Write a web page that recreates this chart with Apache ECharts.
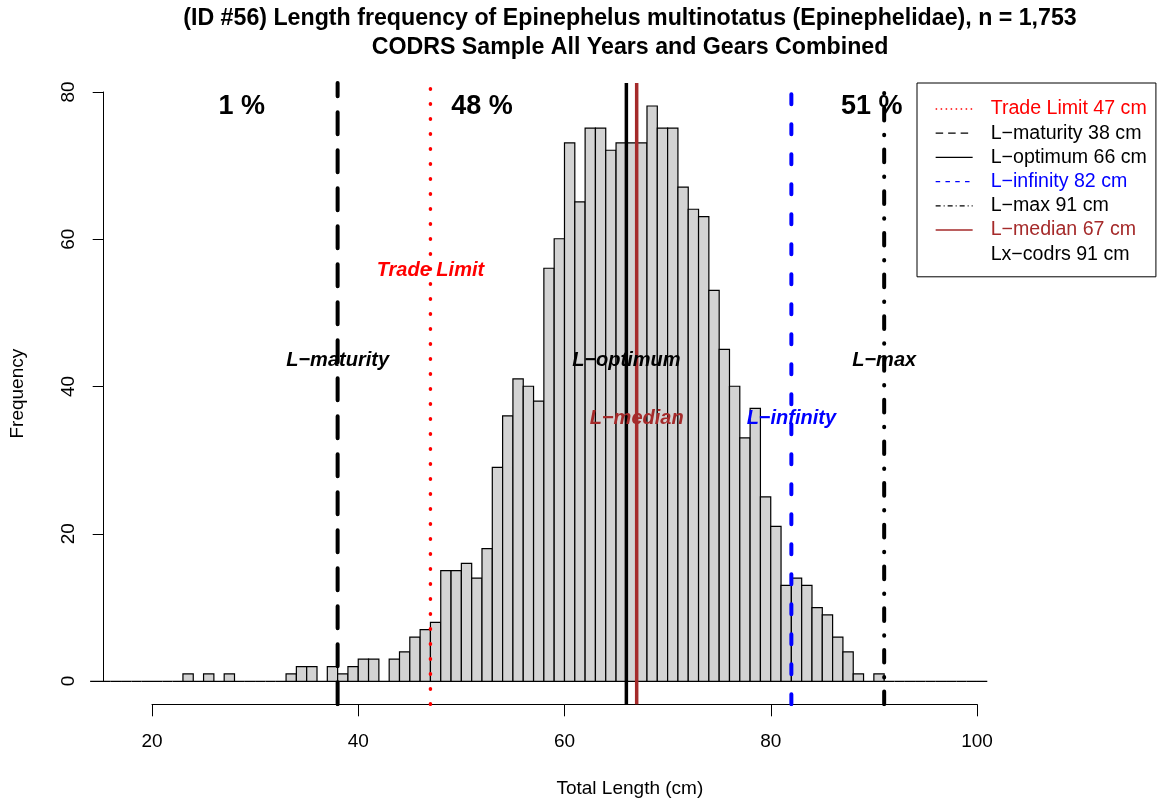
<!DOCTYPE html>
<html>
<head>
<meta charset="utf-8">
<script src="https://cdn.jsdelivr.net/npm/echarts@6.0.0/dist/echarts.min.js"></script>
<style>
html, body { margin: 0; padding: 0; background: #fff; }
#chart { width: 1161px; height: 805px; }
</style>
</head>
<body>
<div id="chart"></div>
<script>
// histogram: left edge of each 1 cm bin and the fish counted in it
const binLeft = [
  14, 15, 16, 17, 18, 19, 20, 21, 22, 23, 24, 25, 26, 27, 28, 29, 30, 31, 32, 33,
  34, 35, 36, 37, 38, 39, 40, 41, 42, 43, 44, 45, 46, 47, 48, 49, 50, 51, 52, 53,
  54, 55, 56, 57, 58, 59, 60, 61, 62, 63, 64, 65, 66, 67, 68, 69, 70, 71, 72, 73,
  74, 75, 76, 77, 78, 79, 80, 81, 82, 83, 84, 85, 86, 87, 88, 89, 90, 91, 92, 93,
  94, 95, 96, 97, 98, 99, 100
];
const binCount = [
  0, 0, 0, 0, 0, 0, 0, 0, 0, 1, 0, 1, 0, 1, 0, 0, 0, 0, 0, 1,
  2, 2, 0, 2, 1, 2, 3, 3, 0, 3, 4, 6, 7, 8, 15, 15, 16, 14, 18, 29,
  36, 41, 40, 38, 56, 60, 73, 65, 75, 75, 72, 73, 73, 73, 78, 75, 75, 67, 64, 63,
  53, 45, 40, 33, 37, 25, 21, 13, 14, 13, 10, 9, 6, 4, 1, 0, 1, 0, 0, 0,
  0, 0, 0, 0, 0, 0, 0
];
const binWidth = 1;

// reference lengths shown in the legend (cm); Lx-codrs has no drawn line
const refNames = ['Trade Limit 47 cm', 'L−maturity 38 cm', 'L−optimum 66 cm', 'L−infinity 82 cm',
                  'L−max 91 cm', 'L−median 67 cm', 'Lx−codrs 91 cm'];
const refLength = [47, 38, 66, 82, 91, 67, null];

// italic tags next to the lines
const tagText = ['Trade Limit', 'L−maturity', 'L−optimum', 'L−median', 'L−infinity', 'L−max'];
const tagX = [47, 38, 66, 67, 82, 91];
const tagY = [55.7, 43.5, 43.5, 35.6, 35.6, 43.5];

// share of the sample in each size zone
const pctText = ['1 %', '48 %', '51 %'];
const pctX = [28.7, 52.0, 89.8];
const pctY = [77.9, 77.9, 77.9];

const FONT = "'Liberation Sans', Arial, Helvetica, sans-serif";
const RED = '#ff0000', BLUE = '#0000ff', BROWN = '#a52a2a';

// plot region limits (R adds 4% around the data range)
const xLo = 15.316, xHi = 117.36;
const yLo = -3.12, yHi = 81.12;

const looks = {
  'Trade Limit 47 cm': { color: RED, width: 3.5, dash: [0.5, 14.5], cap: 'round', key: [1.5, 3.5], text: RED },
  'L−maturity 38 cm': { color: '#000', width: 4, dash: [22, 16], cap: 'round', key: [7.5, 5], text: '#000' },
  'L−optimum 66 cm': { color: '#000', width: 3.5, dash: 'solid', cap: 'butt', key: 'solid', text: '#000' },
  'L−infinity 82 cm': { color: BLUE, width: 4, dash: [10, 20], cap: 'round', key: [4.5, 5.3], text: BLUE },
  'L−max 91 cm': { color: '#000', width: 4, dash: [12.7, 14.2, 0.5, 14.3], cap: 'round', key: [5, 3, 1, 3], text: '#000' },
  'L−median 67 cm': { color: BROWN, width: 3.5, dash: 'solid', cap: 'butt', key: 'solid', text: BROWN },
  'Lx−codrs 91 cm': { color: 'rgba(0,0,0,0)', width: 1, dash: 'solid', cap: 'butt', key: 'solid', text: '#000' }
};
const tagColor = { 'Trade Limit': RED, 'L−median': BROWN, 'L−infinity': BLUE };

const chart = echarts.init(document.getElementById('chart'), null, { renderer: 'canvas' });

const refSeries = refNames.map((name, i) => {
  const lk = looks[name];
  return {
    type: 'line',
    name: name,
    xAxisIndex: 0,
    yAxisIndex: 0,
    symbol: 'none',
    silent: true,
    z: 4,
    data: refLength[i] == null ? [] : [[refLength[i], yLo], [refLength[i], yHi]],
    lineStyle: { color: lk.color, width: lk.width, type: lk.dash, cap: lk.cap }
  };
});

const option = {
  animation: false,
  backgroundColor: '#fff',
  title: {
    text: '(ID #56) Length frequency of Epinephelus multinotatus (Epinephelidae), n = 1,753\nCODRS Sample All Years and Gears Combined',
    left: 630,
    top: 4,
    padding: 0,
    textAlign: 'center',
    textStyle: { fontFamily: FONT, fontSize: 23.2, fontWeight: 'bold', color: '#000', lineHeight: 29 }
  },
  grid: [
    { left: 103.7, right: 5, top: 83, bottom: 100.7, outerBoundsMode: 'none' },   // plot region
    { left: 152, width: 825, top: 600, height: 104.3, outerBoundsMode: 'none' },  // x axis 20-100
    { left: 103.7, width: 10, top: 92, height: 589, outerBoundsMode: 'none' }     // y axis 0-80
  ],
  xAxis: [
    {
      gridIndex: 0, type: 'value', min: xLo, max: xHi,
      axisLine: { show: false }, axisTick: { show: false }, axisLabel: { show: false }, splitLine: { show: false },
      name: 'Total Length (cm)', nameLocation: 'middle', nameGap: 75,
      nameTextStyle: { fontFamily: FONT, fontSize: 19, color: '#000' }
    },
    {
      gridIndex: 1, type: 'value', min: 20, max: 100, interval: 20,
      axisLine: { show: true, lineStyle: { color: '#000', width: 1 } },
      axisTick: { show: true, inside: false, length: 12, lineStyle: { color: '#000', width: 1 } },
      axisLabel: { fontFamily: FONT, fontSize: 19, color: '#000', margin: 28, showMinLabel: true, showMaxLabel: true },
      splitLine: { show: false }
    },
    { gridIndex: 2, type: 'value', show: false }
  ],
  yAxis: [
    {
      gridIndex: 0, type: 'value', min: yLo, max: yHi,
      axisLine: { show: false }, axisTick: { show: false }, axisLabel: { show: false }, splitLine: { show: false },
      name: 'Frequency', nameLocation: 'middle', nameGap: 76,
      nameTextStyle: { fontFamily: FONT, fontSize: 19, color: '#000' }
    },
    { gridIndex: 1, type: 'value', show: false },
    {
      gridIndex: 2, type: 'value', min: 0, max: 80, interval: 20,
      axisLine: { show: true, lineStyle: { color: '#000', width: 1 } },
      axisTick: { show: true, inside: false, length: 11, lineStyle: { color: '#000', width: 1 } },
      axisLabel: { fontFamily: FONT, fontSize: 19, color: '#000', rotate: 90, margin: 25, showMinLabel: true, showMaxLabel: true },
      splitLine: { show: false }
    }
  ],
  legend: {
    orient: 'vertical',
    left: 917,
    top: 83,
    padding: [16, 9, 12.6, 18],
    itemGap: 4.2,
    itemWidth: 37,
    itemHeight: 24.2,
    borderColor: '#000',
    borderWidth: 1,
    borderRadius: 0,
    backgroundColor: '#fff',
    selectedMode: false,
    itemStyle: { opacity: 0 },
    lineStyle: { width: 1.3, cap: 'butt' },
    textStyle: { fontFamily: FONT, fontSize: 19.6, color: '#000', padding: [0, 0, 0, 13] },
    data: refNames.map(name => ({
      name: name,
      textStyle: { color: looks[name].text },
      lineStyle: { color: looks[name].color, type: looks[name].key, width: 1.3, opacity: 1 }
    }))
  },
  series: [
    {
      type: 'custom',
      name: 'hist',
      xAxisIndex: 0,
      yAxisIndex: 0,
      silent: true,
      z: 2,
      data: binLeft.map((x, i) => [x, binCount[i]]),
      encode: { x: 0, y: 1 },
      renderItem: function (params, api) {
        const left = api.value(0);
        const n = api.value(1);
        const topLeft = api.coord([left, n]);
        const bottomRight = api.coord([left + binWidth, 0]);
        return {
          type: 'rect',
          shape: {
            x: topLeft[0], y: topLeft[1],
            width: bottomRight[0] - topLeft[0],
            height: bottomRight[1] - topLeft[1]
          },
          style: { fill: '#d3d3d3', stroke: '#000', lineWidth: 1.2 }
        };
      }
    }
  ].concat(refSeries).concat([
    {
      type: 'scatter',
      name: 'tags',
      xAxisIndex: 0,
      yAxisIndex: 0,
      symbolSize: 0,
      silent: true,
      z: 6,
      itemStyle: { opacity: 1 },
      data: tagText.map((t, i) => ({
        name: t, value: [tagX[i], tagY[i]],
        label: { color: tagColor[t] || '#000' }
      })),
      label: {
        show: true, position: 'inside', formatter: '{b}',
        fontFamily: FONT, fontSize: 20, fontWeight: 'bold', fontStyle: 'italic'
      }
    },
    {
      type: 'scatter',
      name: 'pct',
      xAxisIndex: 0,
      yAxisIndex: 0,
      symbolSize: 0,
      silent: true,
      z: 6,
      itemStyle: { opacity: 1 },
      data: pctText.map((t, i) => ({ name: t, value: [pctX[i], pctY[i]] })),
      label: {
        show: true, position: 'inside', formatter: '{b}', color: '#000',
        fontFamily: FONT, fontSize: 27, fontWeight: 'bold'
      }
    }
  ])
};

chart.setOption(option);
</script>
</body>
</html>
